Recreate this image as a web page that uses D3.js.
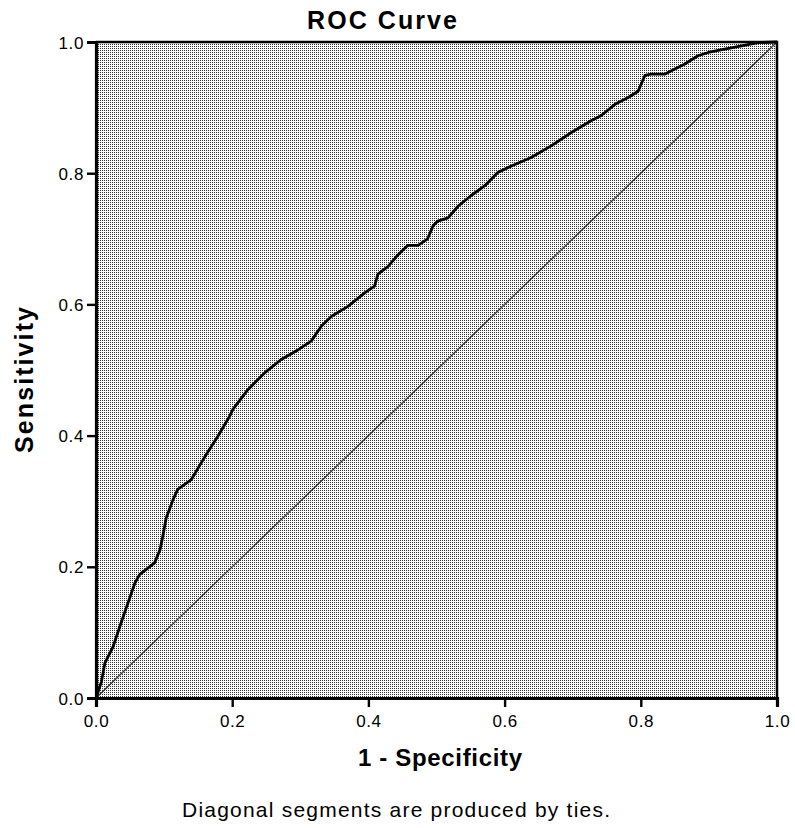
<!DOCTYPE html>
<html>
<head>
<meta charset="utf-8">
<script src="https://cdn.jsdelivr.net/npm/d3@7"></script>
<style>
  body { margin: 0; background: #fff; }
  svg { display: block; font-family: Arial, "Liberation Sans", sans-serif; }
</style>
</head>
<body>
<div id="svgOutput"></div>
<script>
// Data

const fpr = [0, 0.003, 0.008, 0.013, 0.025, 0.035, 0.047, 0.057, 0.064, 0.086, 0.094, 0.098, 0.103, 0.113,
  0.120, 0.140, 0.160, 0.179, 0.196, 0.201, 0.223, 0.248, 0.272, 0.297, 0.316, 0.331, 0.346, 0.370,
  0.395, 0.409, 0.414, 0.429, 0.443, 0.458, 0.473, 0.487, 0.495, 0.502, 0.517, 0.532, 0.551, 0.571,
  0.590, 0.610, 0.639, 0.669, 0.698, 0.727, 0.742, 0.762, 0.781, 0.796, 0.806, 0.815, 0.835, 0.850,
  0.864, 0.884, 0.899, 0.923, 0.948, 0.972, 1];

const tpr = [0, 0.009, 0.025, 0.053, 0.078, 0.109, 0.145, 0.175, 0.188, 0.206, 0.226, 0.246, 0.274, 0.302,
  0.318, 0.333, 0.368, 0.399, 0.429, 0.440, 0.470, 0.496, 0.516, 0.531, 0.544, 0.567, 0.582, 0.597,
  0.618, 0.628, 0.646, 0.658, 0.675, 0.690, 0.690, 0.700, 0.720, 0.727, 0.732, 0.750, 0.766, 0.781,
  0.801, 0.811, 0.824, 0.842, 0.862, 0.880, 0.888, 0.905, 0.915, 0.925, 0.949, 0.951, 0.951, 0.959,
  0.966, 0.979, 0.984, 0.989, 0.994, 0.999, 1];

const referenceLine = [0, 1];
const tickValues = [0, 0.2, 0.4, 0.6, 0.8, 1.0];

const titleText = "ROC Curve";
const xLabel = "1 - Specificity";
const yLabel = "Sensitivity";
const footnote = "Diagonal segments are produced by ties.";

(function () {
  document.addEventListener('DOMContentLoaded', function () {

    // Config

    const width = 795;
    const height = 828;
    const plot = { left: 96, right: 777, top: 42, bottom: 698 };

    const svg = d3.select("#svgOutput")
      .append("svg")
      .attr("width", width)
      .attr("height", height);

    // Stipple fill for the plot area

    const pattern = svg.append("defs")
      .append("pattern")
      .attr("id", "stipple")
      .attr("patternUnits", "userSpaceOnUse")
      .attr("width", 2)
      .attr("height", 2);

    pattern.append("rect").attr("width", 2).attr("height", 2).attr("fill", "#fafafa");
    pattern.append("rect").attr("width", 1).attr("height", 1).attr("fill", "#333");

    // Scales

    const xScale = d3.scaleLinear().domain([0, 1]).range([plot.left, plot.right]);
    const yScale = d3.scaleLinear().domain([0, 1]).range([plot.bottom, plot.top]);

    svg.append("rect")
      .attr("x", xScale(0))
      .attr("y", yScale(1))
      .attr("width", xScale(1) - xScale(0))
      .attr("height", yScale(0) - yScale(1))
      .attr("fill", "url(#stipple)");

    // Reference diagonal

    svg.append("line")
      .attr("x1", xScale(referenceLine[0]))
      .attr("y1", yScale(referenceLine[0]))
      .attr("x2", xScale(referenceLine[1]))
      .attr("y2", yScale(referenceLine[1]))
      .attr("stroke", "#3a3a3a")
      .attr("stroke-width", 1.4);

    // ROC curve

    const points = fpr.map((d, i) => [d, tpr[i]]);

    const line = d3.line()
      .x(d => xScale(d[0]))
      .y(d => yScale(d[1]));

    svg.append("path")
      .datum(points)
      .attr("d", line)
      .attr("fill", "none")
      .attr("stroke", "#000")
      .attr("stroke-width", 2.8)
      .attr("stroke-linejoin", "round");

    // Frame (top and right)

    svg.append("path")
      .attr("d", `M${xScale(0)},${yScale(1)}H${xScale(1)}V${yScale(0)}`)
      .attr("fill", "none")
      .attr("stroke", "#000")
      .attr("stroke-width", 2.5);

    // Axes

    const fmt = d3.format(".1f");

    const xAxis = d3.axisBottom(xScale).tickValues(tickValues).tickFormat(fmt).tickSize(9).tickPadding(6);
    const yAxis = d3.axisLeft(yScale).tickValues(tickValues).tickFormat(fmt).tickSize(9).tickPadding(3);

    const gx = svg.append("g")
      .attr("transform", `translate(0, ${plot.bottom})`)
      .call(xAxis);

    const gy = svg.append("g")
      .attr("transform", `translate(${plot.left}, 0)`)
      .call(yAxis);

    [gx, gy].forEach(g => {
      g.select(".domain").attr("stroke-width", 3.2);
      g.selectAll(".tick line").attr("stroke-width", 2.4);
      g.selectAll(".tick text")
        .attr("font-size", 17)
        .attr("letter-spacing", 0.6)
        .attr("fill", "#000");
    });

    gx.selectAll(".tick text").attr("dy", "0.8em");
    gy.selectAll(".tick text").attr("dy", "0.36em");

    // Titles

    svg.append("text")
      .attr("x", 382)
      .attr("y", 29)
      .attr("text-anchor", "middle")
      .attr("font-size", 25)
      .attr("font-weight", "bold")
      .attr("textLength", 150)
      .attr("lengthAdjust", "spacing")
      .text(titleText);

    svg.append("text")
      .attr("x", 440)
      .attr("y", 766)
      .attr("text-anchor", "middle")
      .attr("font-size", 24)
      .attr("font-weight", "bold")
      .attr("textLength", 164)
      .attr("lengthAdjust", "spacing")
      .text(xLabel);

    svg.append("text")
      .attr("transform", "translate(33, 380) rotate(-90)")
      .attr("text-anchor", "middle")
      .attr("font-size", 25)
      .attr("font-weight", "bold")
      .attr("textLength", 146)
      .attr("lengthAdjust", "spacing")
      .text(yLabel);

    svg.append("text")
      .attr("x", 396)
      .attr("y", 817)
      .attr("text-anchor", "middle")
      .attr("font-size", 21)
      .attr("textLength", 428)
      .attr("lengthAdjust", "spacing")
      .text(footnote);

  });
})();
</script>
</body>
</html>
